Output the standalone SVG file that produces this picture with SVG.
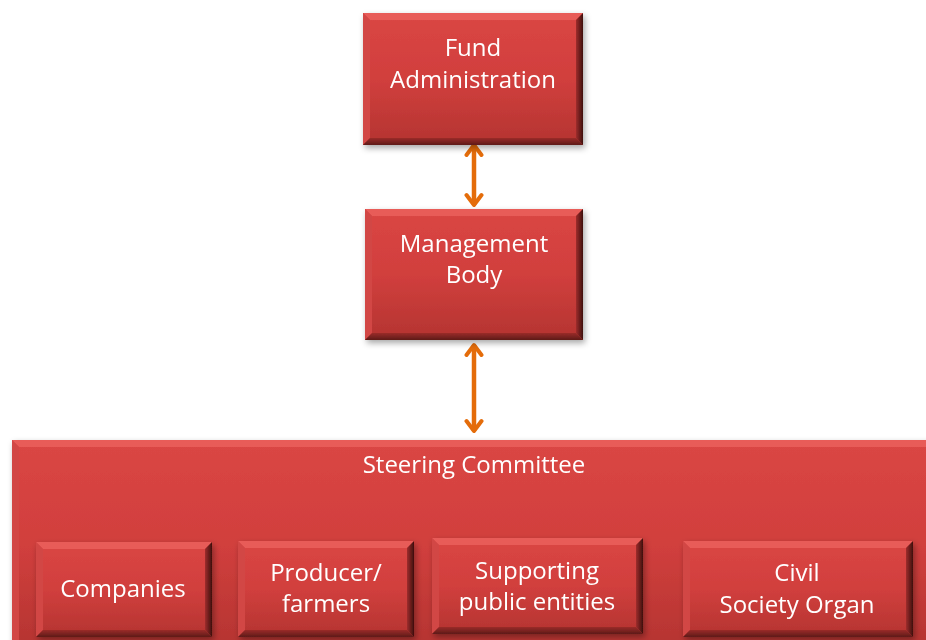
<svg xmlns="http://www.w3.org/2000/svg" width="926" height="640" viewBox="0 0 926 640">
<style>
.lbl{font-family:"Open Sans","Liberation Sans",sans-serif;font-size:24px;fill:#ffffff;text-anchor:middle}
.body{fill:url(#gBody)}
.bt{fill:#ea605d;opacity:.85}
.bl{fill:#d24744}
.br{fill:url(#gRight)}
.bb{fill:url(#gBottom)}
.conn{stroke:#e46c0a;stroke-width:4.5;fill:none;marker-start:url(#ah);marker-end:url(#ah)}
</style>
<defs>
<linearGradient id="gBody" x1="0" y1="0" x2="0" y2="1">
<stop offset="0" stop-color="#da4644"/>
<stop offset="0.5" stop-color="#d13f3d"/>
<stop offset="1" stop-color="#b43431"/>
</linearGradient>
<linearGradient id="gRight" x1="0" y1="0" x2="1" y2="0">
<stop offset="0" stop-color="#9e2e2b"/>
<stop offset="1" stop-color="#3e0f0e"/>
</linearGradient>
<linearGradient id="gBottom" x1="0" y1="0" x2="0" y2="1">
<stop offset="0" stop-color="#9a2c29"/>
<stop offset="1" stop-color="#5e1a18"/>
</linearGradient>
<filter id="sh" x="-10%" y="-10%" width="120%" height="130%">
<feDropShadow dx="2" dy="3" stdDeviation="3" flood-color="#000" flood-opacity="0.35"/>
</filter>
<marker id="ah" viewBox="0 0 16 20" refX="13" refY="10" markerWidth="16" markerHeight="20" markerUnits="userSpaceOnUse" orient="auto-start-reverse">
<path d="M3,2.5 L13,10 L3,17.5" fill="none" stroke="#e46c0a" stroke-width="4" stroke-linecap="round" stroke-linejoin="round"/>
</marker>
</defs>

<g id="connectors">
<line class="conn" x1="474" y1="145" x2="474" y2="205"/>
<line class="conn" x1="474" y1="345" x2="474" y2="431"/>
</g>

<g id="steering-committee" filter="url(#sh)">
<rect class="body" x="12" y="440" width="930" height="210"/>
<polygon class="bt" points="12,440 942,440 935,447 19,447"/>
<polygon class="bl" points="12,440 19,447 19,643 12,650"/>
<text class="lbl" x="474" y="473">Steering Committee</text>
</g>

<g id="fund-administration" filter="url(#sh)">
<rect class="body" x="363" y="13" width="220" height="132"/>
<polygon class="bt" points="363,13 583,13 576,20 370,20"/>
<polygon class="bl" points="363,13 370,20 370,138 363,145"/>
<polygon class="br" points="583,13 583,145 576,138 576,20"/>
<polygon class="bb" points="363,145 583,145 576,138 370,138"/>
<text class="lbl" x="473" y="56">Fund</text>
<text class="lbl" x="473" y="88">Administration</text>
</g>

<g id="management-body" filter="url(#sh)">
<rect class="body" x="365" y="209" width="218" height="131"/>
<polygon class="bt" points="365,209 583,209 576,216 372,216"/>
<polygon class="bl" points="365,209 372,216 372,333 365,340"/>
<polygon class="br" points="583,209 583,340 576,333 576,216"/>
<polygon class="bb" points="365,340 583,340 576,333 372,333"/>
<text class="lbl" x="474" y="252">Management</text>
<text class="lbl" x="474" y="283">Body</text>
</g>

<g id="companies" filter="url(#sh)">
<rect class="body" x="36" y="542" width="176" height="95"/>
<polygon class="bt" points="36,542 212,542 205,549 43,549"/>
<polygon class="bl" points="36,542 43,549 43,630 36,637"/>
<polygon class="br" points="212,542 212,637 205,630 205,549"/>
<polygon class="bb" points="36,637 212,637 205,630 43,630"/>
<text class="lbl" x="123" y="597">Companies</text>
</g>

<g id="producer-farmers" filter="url(#sh)">
<rect class="body" x="238" y="541" width="176" height="96"/>
<polygon class="bt" points="238,541 414,541 407,548 245,548"/>
<polygon class="bl" points="238,541 245,548 245,630 238,637"/>
<polygon class="br" points="414,541 414,637 407,630 407,548"/>
<polygon class="bb" points="238,637 414,637 407,630 245,630"/>
<text class="lbl" x="326" y="581">Producer/</text>
<text class="lbl" x="326" y="612">farmers</text>
</g>

<g id="supporting-public-entities" filter="url(#sh)">
<rect class="body" x="432" y="538" width="211" height="96"/>
<polygon class="bt" points="432,538 643,538 636,545 439,545"/>
<polygon class="bl" points="432,538 439,545 439,627 432,634"/>
<polygon class="br" points="643,538 643,634 636,627 636,545"/>
<polygon class="bb" points="432,634 643,634 636,627 439,627"/>
<text class="lbl" x="537" y="579">Supporting</text>
<text class="lbl" x="537" y="610">public entities</text>
</g>

<g id="civil-society-organ" filter="url(#sh)">
<rect class="body" x="683" y="541" width="230" height="96"/>
<polygon class="bt" points="683,541 913,541 906,548 690,548"/>
<polygon class="bl" points="683,541 690,548 690,630 683,637"/>
<polygon class="br" points="913,541 913,637 906,630 906,548"/>
<polygon class="bb" points="683,637 913,637 906,630 690,630"/>
<text class="lbl" x="797" y="581">Civil</text>
<text class="lbl" x="797" y="613">Society Organ</text>
</g>
</svg>
